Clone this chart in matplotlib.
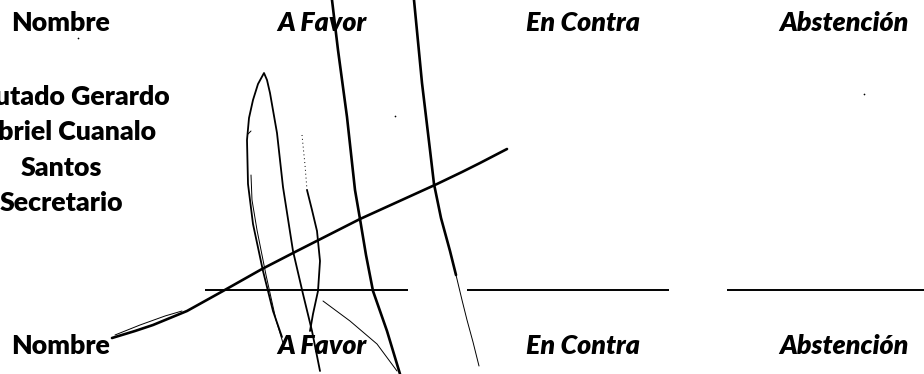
import matplotlib
matplotlib.use("Agg")
import matplotlib.pyplot as plt

# ---- content ----
headers = ["Nombre", "A Favor", "En Contra", "Abstención"]
header_italic = [False, True, True, True]
name_lines = ["Diputado Gerardo", "Gabriel Cuanalo", "Santos", "Secretario"]

# signature strokes (pixel coords: x, y from top)
stroke_a_x = [332, 338, 347, 355, 360, 366, 373, 387, 400]
stroke_a_y = [0, 50, 117, 190, 219, 255, 291, 331, 374]
stroke_b_top_x = [414, 422, 430, 434, 441, 450, 456]
stroke_b_top_y = [0, 83, 150, 184, 218, 251, 275]
stroke_b_low_x = [456, 462, 467, 473, 479]
stroke_b_low_y = [275, 300, 320, 342, 366]
loop_x = [282, 273, 263, 253, 248, 247, 249, 253, 258, 264, 267, 270, 277, 283, 293, 303, 312, 320]
loop_y = [337, 311, 271, 224, 184, 140, 118, 100, 84, 73, 80, 93, 133, 187, 251, 294, 331, 371]
loop_inner_x = [251, 252, 257, 266, 276, 283]
loop_inner_y = [175, 200, 230, 275, 320, 343]
stroke_c_faint_x = [302, 305, 307]
stroke_c_faint_y = [135, 165, 190]
stroke_c_x = [307, 312, 317, 320, 318, 313, 310]
stroke_c_y = [190, 210, 231, 261, 291, 314, 331]
stroke_d_x = [323, 350, 377, 397]
stroke_d_y = [301, 321, 344, 371]
diag_x = [112, 135, 153, 187, 223, 262, 295, 360, 437, 462, 480, 507]
diag_y = [338, 331, 325, 311, 291, 269, 252, 219, 184, 172, 163, 149]
diag_thin_x = [115, 140, 165, 182]
diag_thin_y = [335, 325, 316, 311]
hook_x = [248, 251]
hook_y = [134, 131]
dots_x = [78, 395, 864]
dots_y = [38, 116, 94]

fig = plt.figure(figsize=(9.24, 3.74), dpi=100)
ax = fig.add_axes([0, 0, 1, 1])
ax.set_xlim(0, 924)
ax.set_ylim(374, 0)
ax.axis("off")

FONT = "Lato"
FS = 19.3
WEIGHT = "heavy"
col_x = [61, 322, 583, 844]
row_baseline = [31, 354]
for yb in row_baseline:
    for cx, txt, it in zip(col_x, headers, header_italic):
        ax.text(cx, yb, txt, ha="center", va="baseline", fontsize=FS,
                fontweight=WEIGHT, fontstyle="italic" if it else "normal",
                family=FONT, color="black")

name_baselines = [105, 140, 176, 211]
for yb, txt in zip(name_baselines, name_lines):
    ax.text(61, yb, txt, ha="center", va="baseline", fontsize=FS,
            fontweight=WEIGHT, family=FONT, color="black")

# signature lines
for x0, x1 in [(205, 408), (467, 669), (727, 924)]:
    ax.plot([x0, x1], [290, 290], color="black", lw=1.4, solid_capstyle="butt")

thick = dict(color="black", lw=1.9, solid_capstyle="round", solid_joinstyle="round")
mid = dict(color="black", lw=1.3, solid_capstyle="round", solid_joinstyle="round")
thin = dict(color="black", lw=0.7, solid_capstyle="round", solid_joinstyle="round")

ax.plot(stroke_a_x, stroke_a_y, **thick)
ax.plot(stroke_b_top_x, stroke_b_top_y, **thick)
ax.plot(stroke_b_low_x, stroke_b_low_y, **thin)
ax.plot(loop_x, loop_y, **mid)
ax.plot(loop_inner_x, loop_inner_y, **thin)
ax.plot(stroke_c_faint_x, stroke_c_faint_y, color="black", lw=0.7, ls=(0, (1, 3)))
ax.plot(stroke_c_x, stroke_c_y, **mid)
ax.plot(stroke_d_x, stroke_d_y, **thin)
ax.plot(diag_x, diag_y, **thick)
ax.plot(diag_thin_x, diag_thin_y, **thin)
ax.plot(hook_x, hook_y, **thin)
ax.scatter(dots_x, dots_y, s=1.5, color="black", lw=0)

fig.savefig("out.png", dpi=100, facecolor="white")
